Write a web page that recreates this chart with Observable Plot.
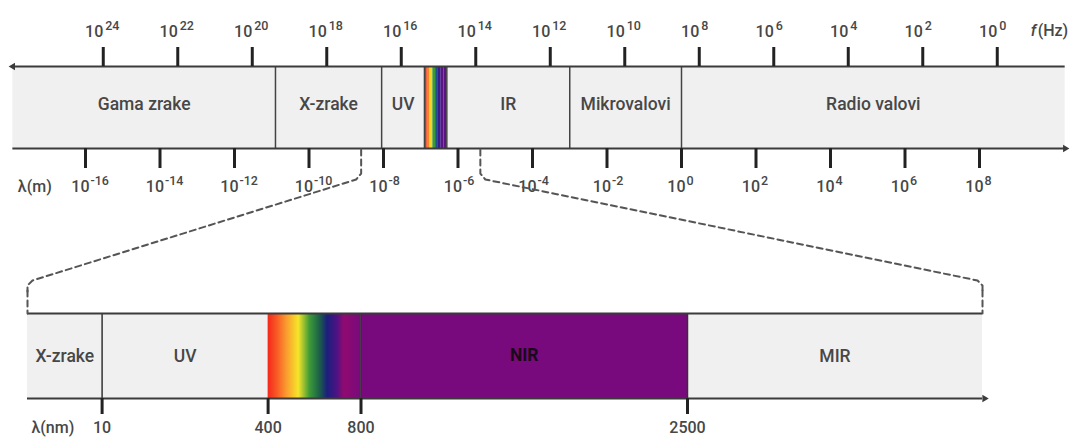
<!DOCTYPE html>
<html>
<head>
<meta charset="utf-8">
<script src="https://cdn.jsdelivr.net/npm/d3@7"></script>
<script src="https://cdn.jsdelivr.net/npm/@observablehq/plot@0.6"></script>
<style>
  html, body { margin: 0; padding: 0; background: #ffffff; }
  #chart svg { display: block; }
</style>
</head>
<body>
<div id="chart"></div>
<script>
// ---------- data ----------
const freqExponents = [24, 22, 20, 18, 16, 14, 12, 10, 8, 6, 4, 2, 0];          // f (Hz) = 10^e
const waveExponents = [-16, -14, -12, -10, -8, -6, -4, -2, 0, 2, 4, 6, 8];      // λ (m) = 10^e
const topBandNames = ["Gama zrake", "X-zrake", "UV", "", "IR", "Mikrovalovi", "Radio valovi"];
const topBandEdges = [-17.95, -10.9, -8.05, -6.9, -6.3, -3, 0, 10.3];            // log10 λ (m)
const topDividers = [-10.9, -8.05, -6.9, -6.3, -3, 0];
const visibleStripeColors = ["#e5321f", "#f4842a", "#f5d327", "#3a9a3a", "#1f4f8f", "#3b1d8a", "#5c1383", "#5c1383"];
const zoomWindow = [-8.6, -5.4];                                                 // log10 λ where the zoom lines start

const nmTicks = [10, 400, 800, 2500];
const lowerBandNames = ["X-zrake", "UV", "", "NIR", "MIR"];
const lowerBandEdges = [0.01, 10, 400, 800, 2500, 25000];                        // λ (nm)
const lowerBandFills = ["#f0f0f0", "#f0f0f0", "url(#visible-gradient)", "#780a7e", "#f0f0f0"];
const lowerDividers = [10, 800, 2500];
const gradientOffsets = [0, 0.1, 0.2, 0.33, 0.45, 0.56, 0.64, 0.74, 0.82, 1];
const gradientColors = ["#f3271c", "#f85a25", "#fa9a2e", "#f5e52a", "#3d9b38", "#1b5f48", "#1c1f7d", "#4a1384", "#900a70", "#780a7c"];

// ---------- styling ----------
const ink = "#3b3b3b";
const tickInk = "#222222";
const textInk = "#474747";
const font = "Roboto, 'Open Sans', sans-serif";
const labelWeight = 500;
const logC = Math.log10(2.998e8); // λ = c / f

// ---------- scales ----------
const topXOptions = {type: "linear", domain: [-16, 8], range: [85, 979]};
const lowXOptions = {type: "linear", domain: lowerBandEdges, range: [27, 101.6, 267.6, 360.5, 687, 982]};
const topX = Plot.scale({x: topXOptions});
const lowX = Plot.scale({x: lowXOptions});

// ---------- derived tables ----------
const topBands = topBandNames.map((name, i) => ({name, x1: topBandEdges[i], x2: topBandEdges[i + 1]}));
const stripeW = (topBandEdges[4] - topBandEdges[3]) / visibleStripeColors.length;
const stripes = visibleStripeColors.map((fill, i) => ({x1: topBandEdges[3] + i * stripeW, x2: topBandEdges[3] + (i + 1) * stripeW, fill}));
const lowerBands = lowerBandNames.map((name, i) => ({name, x1: lowerBandEdges[i], x2: lowerBandEdges[i + 1], fill: lowerBandFills[i]}));

function connector(px0, px1) {
  const dir = Math.sign(px1 - px0);
  return [[px0, 149], [px0, 173], [px0 + dir * 5, 179], [px1 - dir * 5, 280], [px1, 285], [px1, 291]]
    .map(([px, y]) => ({x: topX.invert(px), y}));
}
const leftConn = connector(topX.apply(zoomWindow[0]), lowX.apply(lowerBandEdges[0]));
const rightConn = connector(topX.apply(zoomWindow[1]), lowX.apply(lowerBandEdges[lowerBandEdges.length - 1]));

const txt = {fill: textInk, fontWeight: labelWeight};

// ---------- top plot ----------
const spectrumPlot = Plot.plot({
  width: 1070, height: 290, margin: 0,
  x: {...topXOptions, axis: null},
  y: {domain: [0, 290], range: [0, 290], axis: null},
  color: {type: "identity"},
  style: {fontFamily: font, background: "#fff", overflow: "visible"},
  marks: [
    Plot.rect(topBands, {x1: "x1", x2: "x2", y1: 66, y2: 148, fill: "#f0f0f0"}),
    Plot.rect(stripes, {x1: "x1", x2: "x2", y1: 66, y2: 148, fill: "fill"}),
    Plot.ruleX(topDividers, {y1: 66, y2: 148, stroke: "#444", strokeWidth: 1.5}),
    Plot.ruleY([66], {x1: topBandEdges[0], x2: topBandEdges[topBandEdges.length - 1], stroke: ink, strokeWidth: 2.2}),
    Plot.ruleY([148], {x1: topBandEdges[0], x2: topBandEdges[topBandEdges.length - 1], stroke: ink, strokeWidth: 2.2}),
    Plot.dot([topBandEdges[0]], {x: d => d, y: 66, symbol: "triangle2", rotate: -90, r: 3.5, fill: ink}),
    Plot.dot([topBandEdges[topBandEdges.length - 1]], {x: d => d, y: 148, symbol: "triangle2", rotate: 90, r: 3.5, fill: ink}),
    // frequency axis
    Plot.ruleX(freqExponents, {x: e => logC - e, y1: 47, y2: 66, stroke: tickInk, strokeWidth: 3}),
    Plot.text(freqExponents, {x: e => logC - e, y: 31, text: () => "10", textAnchor: "end", dx: 0, fontSize: 16, ...txt}),
    Plot.text(freqExponents, {x: e => logC - e, y: 25, text: e => String(e), textAnchor: "start", dx: 2, fontSize: 12.5, ...txt}),
    Plot.text(["(Hz)"], {x: topBandEdges[topBandEdges.length - 1], y: 30, text: d => d, textAnchor: "end", dx: 3, fontSize: 16, ...txt}),
    Plot.text(["f"], {x: topBandEdges[topBandEdges.length - 1], y: 30, text: d => d, textAnchor: "end", dx: -29, fontSize: 16, fontStyle: "italic", ...txt}),
    // wavelength axis
    Plot.ruleX(waveExponents, {x: e => e, y1: 148, y2: 168, stroke: tickInk, strokeWidth: 3}),
    Plot.text(waveExponents, {x: e => e, y: 186, text: () => "10", textAnchor: "end", dx: 4, fontSize: 16, ...txt}),
    Plot.text(waveExponents, {x: e => e, y: 180, text: e => String(e), textAnchor: "start", dx: 5, fontSize: 12.5, ...txt}),
    Plot.text(["λ(m)"], {x: topBandEdges[0], y: 186, text: d => d, textAnchor: "start", dx: 5, fontSize: 16, ...txt}),
    // band labels
    Plot.text(topBands.filter(d => d.name), {x: d => (d.x1 + d.x2) / 2, y: 104, text: "name", fontSize: 17.5, ...txt}),
    // zoom connectors
    Plot.line(leftConn, {x: "x", y: "y", stroke: "#555", strokeWidth: 2, strokeDasharray: "6,4"}),
    Plot.line(rightConn, {x: "x", y: "y", stroke: "#555", strokeWidth: 2, strokeDasharray: "6,4"})
  ]
});

// ---------- bottom plot ----------
const gradientDefs = () => {
  const defs = d3.create("svg:defs");
  const g = defs.append("linearGradient").attr("id", "visible-gradient").attr("x1", 0).attr("x2", 1).attr("y1", 0).attr("y2", 0);
  gradientOffsets.forEach((o, i) => g.append("stop").attr("offset", o).attr("stop-color", gradientColors[i]));
  return defs.node();
};

const zoomPlot = Plot.plot({
  width: 1070, height: 147, margin: 0,
  x: {...lowXOptions, axis: null},
  y: {domain: [290, 437], range: [0, 147], axis: null},
  color: {type: "identity"},
  style: {fontFamily: font, background: "#fff", overflow: "visible"},
  marks: [
    gradientDefs,
    Plot.rect(lowerBands, {x1: "x1", x2: "x2", y1: 313, y2: 398, fill: "fill"}),
    Plot.ruleX(lowerDividers, {y1: 313, y2: 398, stroke: "#333", strokeWidth: 1.5}),
    Plot.ruleY([313], {x1: lowerBandEdges[0], x2: lowerBandEdges[lowerBandEdges.length - 1], stroke: ink, strokeWidth: 2.2}),
    Plot.ruleY([398], {x1: lowerBandEdges[0], x2: lowerBandEdges[lowerBandEdges.length - 1], stroke: ink, strokeWidth: 2.2}),
    Plot.dot([lowerBandEdges[lowerBandEdges.length - 1]], {x: d => d, y: 398, dx: 2, symbol: "triangle2", rotate: 90, r: 3.5, fill: ink}),
    Plot.ruleX(nmTicks, {y1: 398, y2: 414, stroke: tickInk, strokeWidth: 3}),
    Plot.text(nmTicks, {x: d => d, y: 427, text: d => String(d), fontSize: 16, ...txt}),
    Plot.text(["λ(nm)"], {x: lowerBandEdges[0], y: 427, text: d => d, textAnchor: "start", dx: 4, fontSize: 16, ...txt}),
    Plot.text(lowerBands.filter(d => d.name && d.name !== "NIR"), {x: d => (d.x1 + d.x2) / 2, y: 356, text: "name", fontSize: 17.5, ...txt}),
    Plot.text(lowerBands.filter(d => d.name === "NIR"), {x: d => (d.x1 + d.x2) / 2, y: 355, text: "name", fontSize: 17.5, fontWeight: "bold", fill: "#1a0a1a"}),
    Plot.line([[lowerBandEdges[0], 290], [lowerBandEdges[0], 313]], {stroke: "#555", strokeWidth: 2, strokeDasharray: "6,4"}),
    Plot.line([[lowerBandEdges[lowerBandEdges.length - 1], 290], [lowerBandEdges[lowerBandEdges.length - 1], 313]], {stroke: "#555", strokeWidth: 2, strokeDasharray: "6,4"})
  ]
});

document.getElementById("chart").append(spectrumPlot, zoomPlot);
</script>
</body>
</html>
